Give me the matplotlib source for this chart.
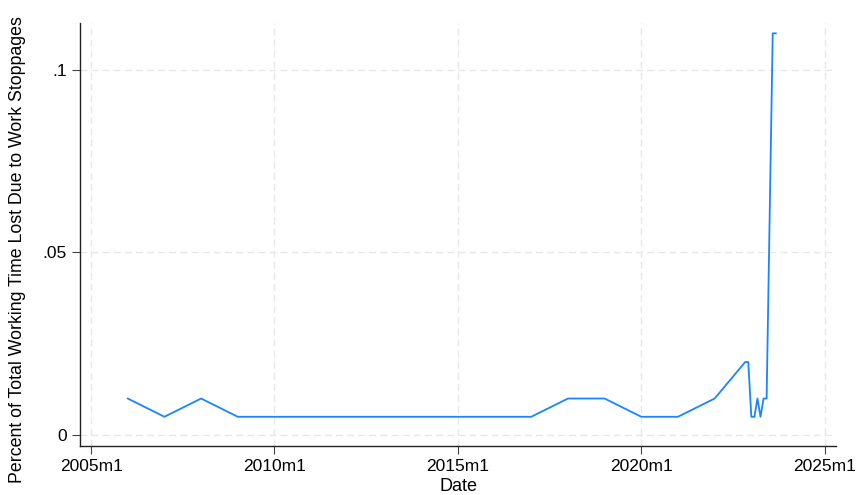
import numpy as np
import matplotlib
matplotlib.use('Agg')
from matplotlib import pyplot as plt
from matplotlib.ticker import FuncFormatter

# --- dati: (anno, mese) e percentuale di tempo perso ---
years = [2006, 2007, 2008, 2009, 2017, 2018, 2019, 2020, 2021, 2022,
         2022, 2022, 2023, 2023, 2023, 2023, 2023, 2023, 2023, 2023]
months = [1, 1, 1, 1, 1, 1, 1, 1, 1, 1,
          11, 12, 1, 2, 3, 4, 5, 6, 8, 9]
pct_lost = [0.01, 0.005, 0.01, 0.005, 0.005, 0.01, 0.01, 0.005, 0.005, 0.01,
            0.02, 0.02, 0.005, 0.005, 0.01, 0.005, 0.01, 0.01, 0.11, 0.11]

x_ticks = [2005, 2010, 2015, 2020, 2025]
y_ticks = [0, 0.05, 0.1]

plt.rcParams['font.family'] = ['Liberation Sans', 'DejaVu Sans']

date = np.array(years) + (np.array(months) - 1) / 12

fig = plt.figure(figsize=(8.57, 4.95), dpi=100)
ax = fig.add_axes([0.093, 0.099, 0.883, 0.855])

ax.plot(date, pct_lost, color='#1a85ff', lw=1.3)

ax.set_xlim(2004.69, 2025.32)
ax.set_ylim(-0.003, 0.1129)
ax.set_xticks(x_ticks)
ax.set_xticklabels([f'{y}m1' for y in x_ticks])
ax.set_yticks(y_ticks)
ax.yaxis.set_major_formatter(FuncFormatter(lambda v, p: '0' if v == 0 else f'{v:g}'.lstrip('0')))

ax.grid(True, color='#e8e8e8', linestyle=(0, (5, 3)), lw=1)
ax.set_axisbelow(True)
for s in ['top', 'right']:
    ax.spines[s].set_visible(False)
for s in ['left', 'bottom']:
    ax.spines[s].set_color('#222222')
    ax.spines[s].set_linewidth(1)

ax.tick_params(direction='out', length=6, color='#444444', labelsize=12.5, labelcolor='black')
ax.set_xlabel('Date', fontsize=13, labelpad=3)
ax.set_ylabel('Percent of Total Working Time Lost Due to Work Stoppages', fontsize=12.8)
ax.yaxis.set_label_coords(-0.071, 0.465)

fig.savefig('out.png', dpi=100, facecolor='white')
